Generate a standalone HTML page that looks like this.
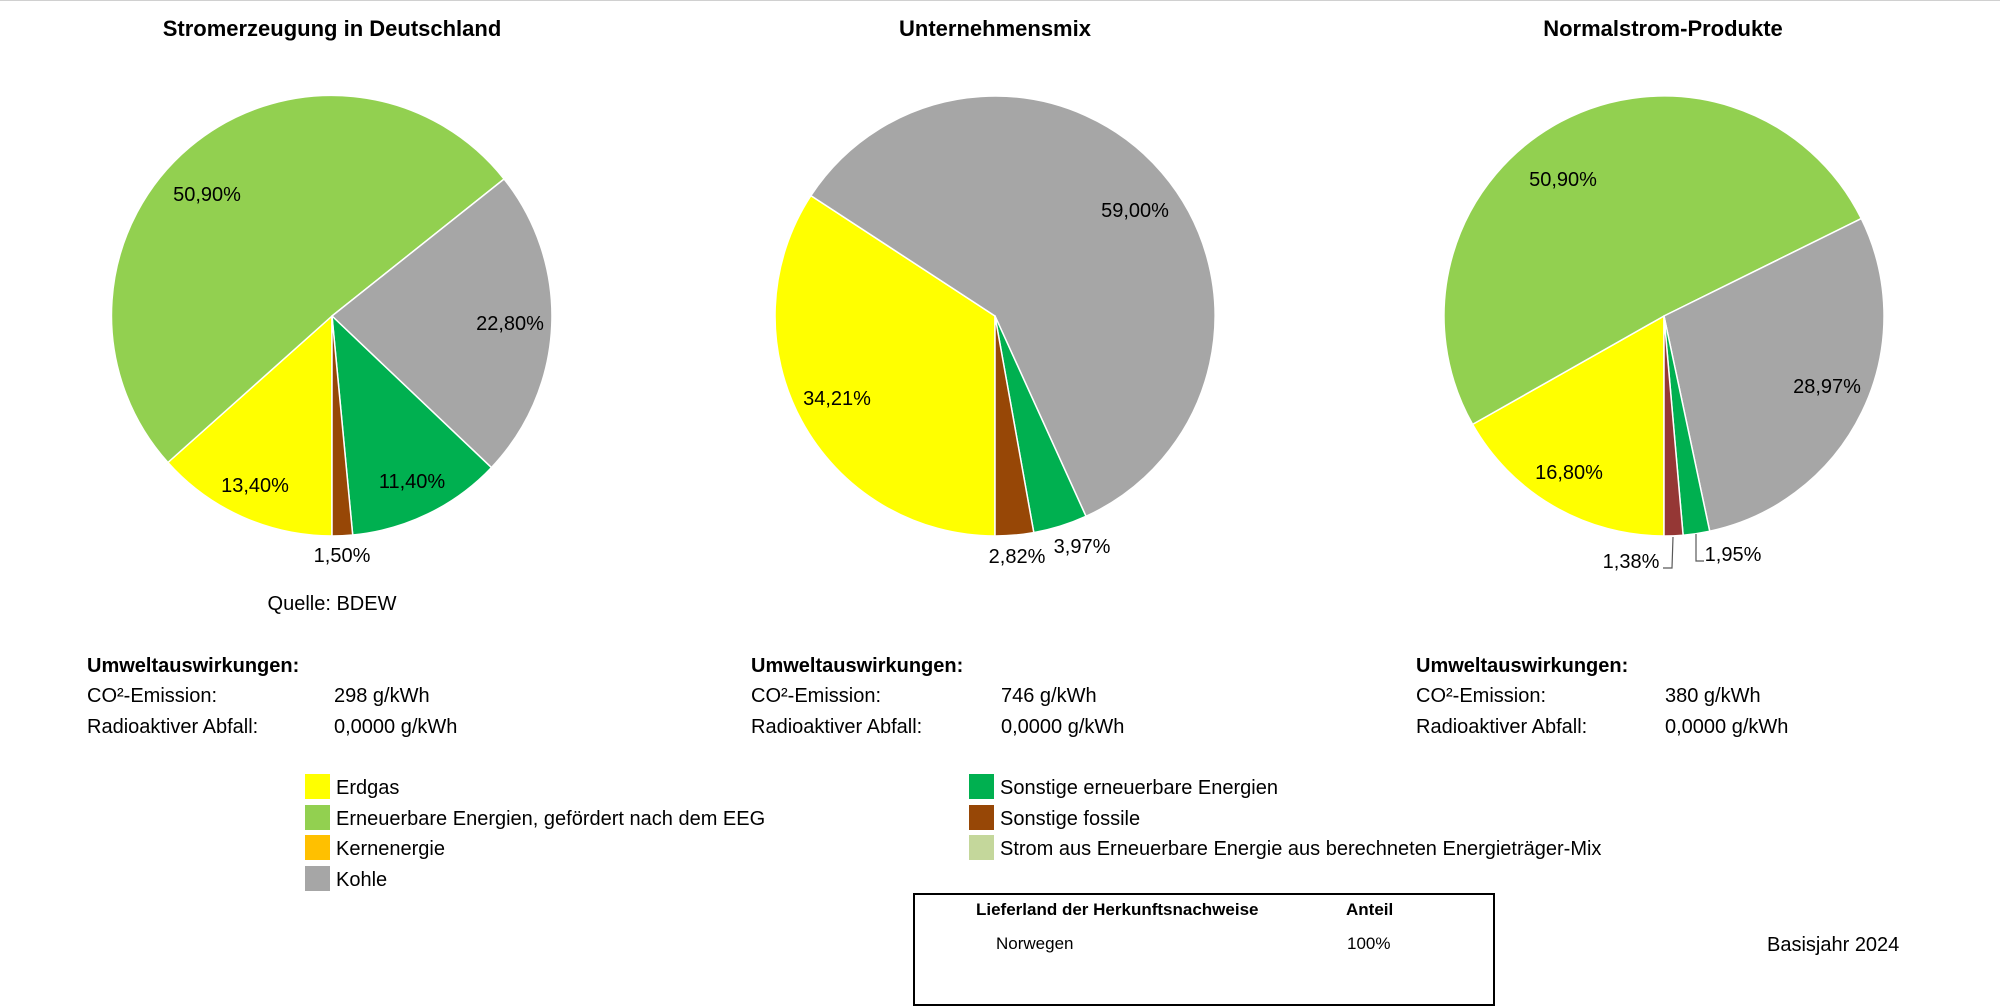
<!DOCTYPE html>
<html><head><meta charset="utf-8"><style>
html,body{margin:0;padding:0;background:#fff}
svg{display:block}
text{font-family:"Liberation Sans",sans-serif;fill:#000}
.t{font-size:22px;font-weight:bold}
.l{font-size:20px}
.u{font-size:20px}
.b{font-weight:bold}
.s{font-size:17px}
</style></head><body>
<svg width="2000" height="1007" viewBox="0 0 2000 1007" xmlns="http://www.w3.org/2000/svg">
<rect x="0" y="0" width="2000" height="1007" fill="#fff"/>
<line x1="0" y1="0.5" x2="2000" y2="0.5" stroke="#d0d0d0" stroke-width="1"/>
<g stroke="#fff" stroke-width="1.5" stroke-linejoin="round">
<path d="M332,316 L332,536 A220,220 0 0 1 167.9,462.5 Z" fill="#FFFF00"/>
<path d="M332,316 L167.9,462.5 A220,220 0 1 1 504.1,179.0 Z" fill="#92D050"/>
<path d="M332,316 L504.1,179.0 A220,220 0 0 1 491.4,467.6 Z" fill="#A6A6A6"/>
<path d="M332,316 L491.4,467.6 A220,220 0 0 1 352.7,535.0 Z" fill="#00B050"/>
<path d="M332,316 L352.7,535.0 A220,220 0 0 1 332,536 Z" fill="#974706"/>
<path d="M995,316 L995,536 A220,220 0 0 1 810.9,195.6 Z" fill="#FFFF00"/>
<path d="M995,316 L810.9,195.6 A220,220 0 1 1 1086.0,516.3 Z" fill="#A6A6A6"/>
<path d="M995,316 L1086.0,516.3 A220,220 0 0 1 1033.8,532.6 Z" fill="#00B050"/>
<path d="M995,316 L1033.8,532.6 A220,220 0 0 1 995,536 Z" fill="#974706"/>
<path d="M1664,316 L1664,536 A220,220 0 0 1 1472.6,424.4 Z" fill="#FFFF00"/>
<path d="M1664,316 L1472.6,424.4 A220,220 0 1 1 1861.3,218.6 Z" fill="#92D050"/>
<path d="M1664,316 L1861.3,218.6 A220,220 0 0 1 1709.7,531.2 Z" fill="#A6A6A6"/>
<path d="M1664,316 L1709.7,531.2 A220,220 0 0 1 1683.1,535.2 Z" fill="#00B050"/>
<path d="M1664,316 L1683.1,535.2 A220,220 0 0 1 1664,536 Z" fill="#953735"/>
</g>
<polyline points="1673,537 1672,568 1663,568" fill="none" stroke="#595959" stroke-width="1.2"/>
<polyline points="1696,534 1696,561 1704,561" fill="none" stroke="#595959" stroke-width="1.2"/>

<text class="t" x="332" y="36" text-anchor="middle">Stromerzeugung in Deutschland</text>
<text class="t" x="995" y="36" text-anchor="middle">Unternehmensmix</text>
<text class="t" x="1663" y="36" text-anchor="middle">Normalstrom-Produkte</text>

<g class="l" text-anchor="middle">
<text x="207" y="201">50,90%</text>
<text x="510" y="330">22,80%</text>
<text x="255" y="492">13,40%</text>
<text x="412" y="488">11,40%</text>
<text x="342" y="562">1,50%</text>
<text x="332" y="610">Quelle: BDEW</text>
<text x="1135" y="217">59,00%</text>
<text x="837" y="405">34,21%</text>
<text x="1017" y="563">2,82%</text>
<text x="1082" y="553">3,97%</text>
<text x="1563" y="186">50,90%</text>
<text x="1827" y="393">28,97%</text>
<text x="1569" y="479">16,80%</text>
<text x="1631" y="568">1,38%</text>
<text x="1733" y="561">1,95%</text>
</g>

<g class="u">
<text class="b" x="87" y="672">Umweltauswirkungen:</text>
<text x="87" y="702">CO²-Emission:</text><text x="334" y="702">298 g/kWh</text>
<text x="87" y="733">Radioaktiver Abfall:</text><text x="334" y="733">0,0000 g/kWh</text>
<text class="b" x="751" y="672">Umweltauswirkungen:</text>
<text x="751" y="702">CO²-Emission:</text><text x="1001" y="702">746 g/kWh</text>
<text x="751" y="733">Radioaktiver Abfall:</text><text x="1001" y="733">0,0000 g/kWh</text>
<text class="b" x="1416" y="672">Umweltauswirkungen:</text>
<text x="1416" y="702">CO²-Emission:</text><text x="1665" y="702">380 g/kWh</text>
<text x="1416" y="733">Radioaktiver Abfall:</text><text x="1665" y="733">0,0000 g/kWh</text>
</g>

<rect x="305" y="774" width="25" height="25" fill="#FFFF00"/>
<rect x="305" y="805" width="25" height="25" fill="#92D050"/>
<rect x="305" y="835" width="25" height="25" fill="#FFC000"/>
<rect x="305" y="866" width="25" height="25" fill="#A6A6A6"/>
<rect x="969" y="774" width="25" height="25" fill="#00B050"/>
<rect x="969" y="805" width="25" height="25" fill="#974706"/>
<rect x="969" y="835" width="25" height="25" fill="#C4D79B"/>
<g class="l">
<text x="336" y="794">Erdgas</text>
<text x="336" y="825">Erneuerbare Energien, gefördert nach dem EEG</text>
<text x="336" y="855">Kernenergie</text>
<text x="336" y="886">Kohle</text>
<text x="1000" y="794">Sonstige erneuerbare Energien</text>
<text x="1000" y="825">Sonstige fossile</text>
<text x="1000" y="855">Strom aus Erneuerbare Energie aus berechneten Energieträger-Mix</text>
<text x="1767" y="951">Basisjahr 2024</text>
</g>

<rect x="914" y="894" width="580" height="111" fill="none" stroke="#000" stroke-width="2"/>
<g class="s">
<text class="b" x="976" y="915">Lieferland der Herkunftsnachweise</text>
<text class="b" x="1346" y="915">Anteil</text>
<text x="996" y="949">Norwegen</text>
<text x="1347" y="949">100%</text>
</g>
</svg>
</body></html>
